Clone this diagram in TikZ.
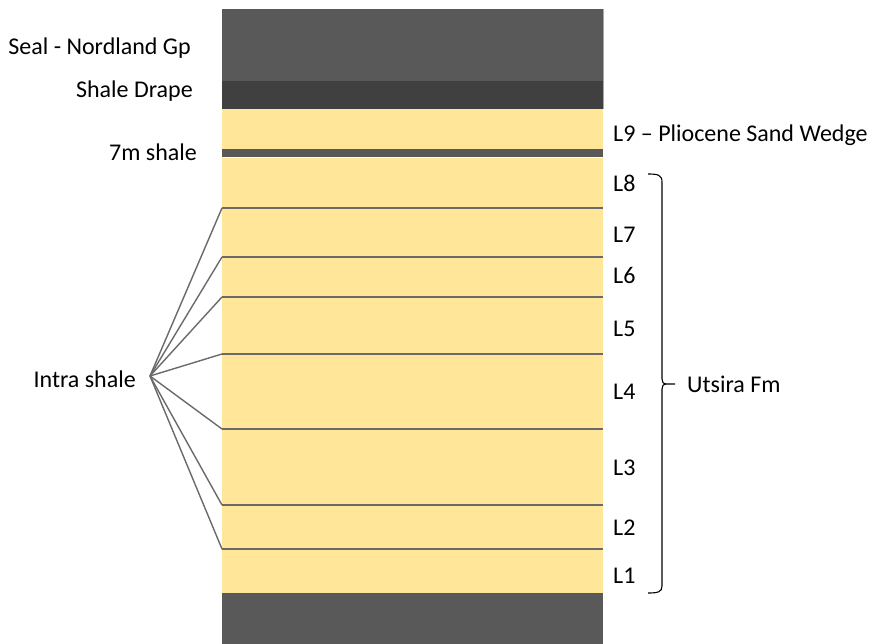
\documentclass[tikz,border=0pt]{standalone}
\usepackage{fontspec}
\setmainfont{Carlito}
\definecolor{seal}{HTML}{595959}
\definecolor{drape}{HTML}{404040}
\definecolor{sand}{HTML}{FFE699}
\definecolor{ln}{HTML}{6A6A6A}
\begin{document}
\begin{tikzpicture}[x=1pt,y=-1pt,
  lbl/.style={inner sep=0pt,font=\fontsize{24}{27}\selectfont,text=black},
  boundary/.style={draw=ln,line width=1.2pt},
  leader/.style={draw=ln,line width=1.4pt}]
\useasboundingbox (0,0) rectangle (870,644);
% layers
\fill[seal] (222,9) rectangle (603,81);
\fill[drape] (222,81) rectangle (603,109);
\fill[sand] (222,109) rectangle (603,149);
\fill[seal] (222,149) rectangle (603,157);
\draw[white,line width=0.8pt] (222,157.6) -- (603,157.6);
\fill[sand] (222,158) rectangle (603,593);
\fill[seal] (222,593) rectangle (603,644);
\draw[gray!70,line width=0.6pt] (603,9) -- (603,109);
% boundaries
\foreach \n/\y in {a/208,b/257,c/297,d/354,e/429,f/505,g/549}{
  \coordinate (\n) at (222,\y);
  \draw[boundary] (\n) -- (603,\y);
}
% left labels
\node[lbl,anchor=base east] (seal) at (191,55) {Seal - Nordland Gp};
\node[lbl,anchor=base east] (drape) at (193,98) {Shale Drape};
\node[lbl,anchor=base east] (sh7) at (197,161) {7m shale};
\node[lbl,anchor=base east] (intra) at (136,387) {Intra shale};
\coordinate (apex) at (150,376);
\foreach \n in {a,b,c,d,e,f,g}{\draw[leader] (apex) -- (\n);}
% right labels
\node[lbl,anchor=base west] (l9) at (613,142) {L9 – Pliocene Sand Wedge};
\foreach \t/\y in {L8/192,L7/243,L6/284,L5/336,L4/399,L3/475,L2/535,L1/583}{
  \node[lbl,anchor=base west] (\t) at (613,\y) {\t};
}
% brace
\coordinate (bt) at (648,174);
\coordinate (bm) at (675,384);
\coordinate (bb) at (648,593);
\draw[black,line width=1.1pt,line join=round] (bt) .. controls (658,174) and (662,175) .. (662,182)
  -- (662,379) .. controls (662,382) and (663,384) .. (667,384) -- (bm)
  (667,384) .. controls (663,384) and (662,386) .. (662,389)
  -- (662,586) .. controls (662,592) and (658,593) .. (bb);
\node[lbl,anchor=base west] (utsira) at (687,392) {Utsira Fm};
\end{tikzpicture}
\end{document}
